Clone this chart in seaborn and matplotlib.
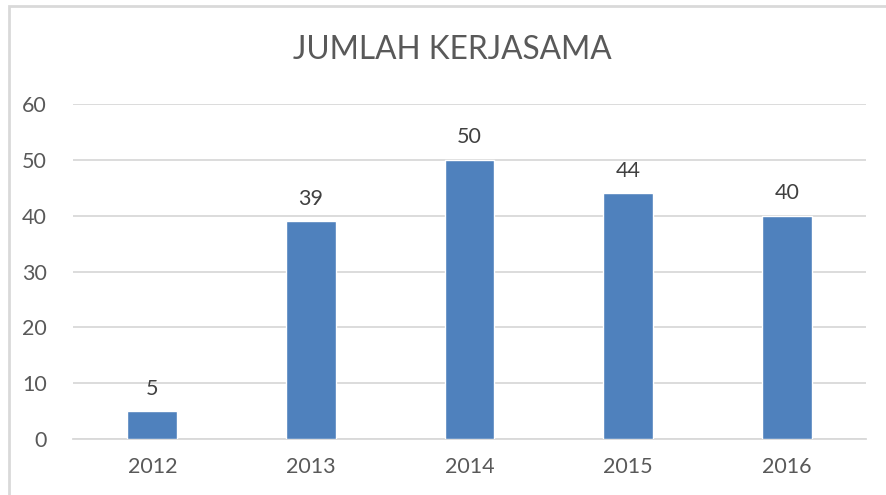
import numpy as np
import pandas as pd
import matplotlib
matplotlib.use('Agg')
import matplotlib.pyplot as plt
from matplotlib.patches import Rectangle
import seaborn as sns

# Data
years = ['2012', '2013', '2014', '2015', '2016']
jumlah = [5, 39, 50, 44, 40]
y_ticks = [0, 10, 20, 30, 40, 50, 60]

BAR_COLOR = '#4F81BD'
GRID_COLOR = '#D9D9D9'
TEXT_COLOR = '#595959'

sns.set_theme(style='white')
plt.rcParams['font.family'] = ['Lato', 'DejaVu Sans']

df = pd.DataFrame({'tahun': years, 'jumlah': jumlah})

fig = plt.figure(figsize=(8.86, 4.95), dpi=100)
ax = fig.add_axes([73 / 886, 1 - 439 / 495, (866 - 73) / 886, (439 - 104) / 495])

sns.barplot(data=df, x='tahun', y='jumlah', color=BAR_COLOR, width=0.315,
            saturation=1, ax=ax, zorder=3)

ax.set_ylim(0, 60)
ax.set_xlim(-0.5, len(years) - 0.5)
ax.set_yticks(y_ticks)
ax.yaxis.grid(True, color=GRID_COLOR, linewidth=1.3, zorder=0)
ax.set_axisbelow(True)
for s in ['top', 'right', 'left']:
    ax.spines[s].set_visible(False)
ax.spines['bottom'].set_color(GRID_COLOR)
ax.spines['bottom'].set_linewidth(1.3)
ax.set_xlabel('')
ax.set_ylabel('')
ax.tick_params(axis='both', length=0, labelsize=15.5, labelcolor=TEXT_COLOR)
ax.tick_params(axis='x', pad=13)
ax.tick_params(axis='y', pad=19)

for i, v in enumerate(jumlah):
    ax.annotate(str(v), (i, v), xytext=(0, 9), textcoords='offset points',
                ha='center', va='bottom', fontsize=15.5, color='#404040')

fig.text(452 / 886, 1 - 50 / 495, 'JUMLAH KERJASAMA', ha='center', va='center',
         fontsize=22.8, color=TEXT_COLOR)

# chart border (only left/top visible in the crop)
fig.patches.append(Rectangle((9 / 886, -0.1), 1.2, 1 - 6 / 495 + 0.1,
                             transform=fig.transFigure, fill=False,
                             edgecolor=GRID_COLOR, linewidth=2))

fig.savefig('out.png', dpi=100)
